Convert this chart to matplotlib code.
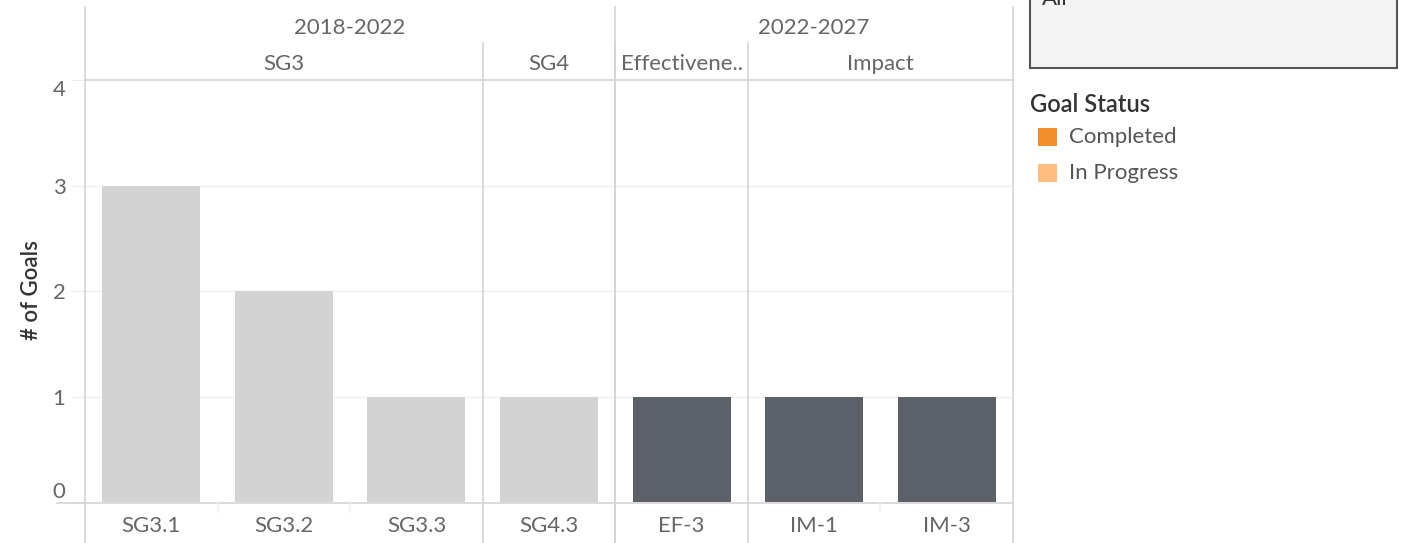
import matplotlib.pyplot as plt
from matplotlib.patches import Rectangle
from matplotlib.transforms import blended_transform_factory

plt.rcParams['font.family'] = ['Lato', 'DejaVu Sans']

# data
goals = ['SG3.1', 'SG3.2', 'SG3.3', 'SG4.3', 'EF-3', 'IM-1', 'IM-3']
groups = ['SG3', 'SG3', 'SG3', 'SG4', 'Effectivene..', 'Impact', 'Impact']
periods = ['2018-2022'] * 4 + ['2022-2027'] * 3
counts = [3, 2, 1, 1, 1, 1, 1]
highlight = [False, False, False, False, True, True, True]

legend_title = 'Goal Status'
legend_labels = ['Completed', 'In Progress']
legend_colors = ['#f28e2b', '#ffbe7d']

GRAY = '#d3d3d3'
DARK = '#5c6069'
LINE = '#d4d4d4'
TXT = '#666666'
FS = 16

W, H = 1402, 543
fig = plt.figure(figsize=(W / 100, H / 100), dpi=100)


def fy(py):
    # pixel row (from top) to figure fraction
    return 1 - py / H


ax = fig.add_axes([85 / W, fy(502), (1013 - 85) / W, (502 - 79) / H])
x = list(range(len(goals)))
ax.bar(x, counts, width=0.74, color=[DARK if h else GRAY for h in highlight], zorder=2)
ax.set_xlim(-0.5, len(goals) - 0.5)
ax.set_ylim(0, 4.01)
ax.set_yticks([0, 1, 2, 3, 4])
ax.tick_params(axis='y', length=10, color='#eeeeee', labelcolor=TXT, labelsize=FS, pad=4)
labels = ax.get_yticklabels()
labels[0].set_va('bottom')
labels[-1].set_va('top')
ax.set_xticks([])
for s in ax.spines.values():
    s.set_visible(False)
for yv in [1, 2, 3]:
    ax.axhline(yv, color='#f0f0f0', lw=1, zorder=1)
ax.set_ylabel('# of Goals', fontsize=FS, color='#333333', labelpad=8, fontweight='semibold')

tr = blended_transform_factory(ax.transData, fig.transFigure)


def vline(xv, top, bottom=H, color=LINE, lw=1.2):
    fig.add_artist(plt.Line2D([xv, xv], [fy(top), fy(bottom)], transform=tr,
                              color=color, lw=lw, clip_on=False))


def hline(x0, x1, py, color=LINE, lw=1.2):
    fig.add_artist(plt.Line2D([x0, x1], [fy(py), fy(py)], transform=tr,
                              color=color, lw=lw, clip_on=False))


def spans(keys):
    out = []
    start = 0
    for i in range(1, len(keys) + 1):
        if i == len(keys) or keys[i] != keys[start]:
            out.append((keys[start], start - 0.5, i - 0.5))
            start = i
    return out


left, right = -0.5, len(goals) - 0.5
# outer borders
vline(left, 7)
vline(right, 7)
hline(left, right, 79.5)
hline(left - 0.21, right, 502.5)
# period header
for name, a, b in spans(periods):
    fig.text((a + b) / 2, fy(28), name, transform=tr, ha='center', va='center',
             fontsize=FS, color=TXT)
    if a > left:
        vline(a, 7)
# group header
for name, a, b in spans(groups):
    fig.text((a + b) / 2, fy(64), name, transform=tr, ha='center', va='center',
             fontsize=FS, color=TXT)
    if a > left:
        vline(a, 43)
# goal labels + small ticks between goals of a group
for i, g in enumerate(goals):
    fig.text(i, fy(526), g, transform=tr, ha='center', va='center', fontsize=FS, color=TXT)
    if i > 0 and groups[i] == groups[i - 1]:
        vline(i - 0.5, 502, 512, color='#eeeeee')

# filter box at top right
fig.add_artist(Rectangle((1030 / W, fy(68)), (1397 - 1030) / W, 90 / H,
                         transform=fig.transFigure, facecolor='#f3f3f3',
                         edgecolor='#555555', lw=1.5))
fig.text(1042 / W, fy(-1), 'All', ha='left', va='center', fontsize=FS, color='#333333')

# legend
fig.text(1030 / W, fy(104), legend_title, ha='left', va='center', fontsize=17,
         color='#333333', fontweight='semibold')
for k, (lab, col) in enumerate(zip(legend_labels, legend_colors)):
    cy = 137 + k * 36
    fig.add_artist(Rectangle((1038 / W, fy(cy + 9)), 19 / W, 18 / H,
                             transform=fig.transFigure, facecolor=col, edgecolor='none'))
    fig.text(1069 / W, fy(cy), lab, ha='left', va='center', fontsize=FS, color='#555555')

fig.savefig('out.png', dpi=100)
